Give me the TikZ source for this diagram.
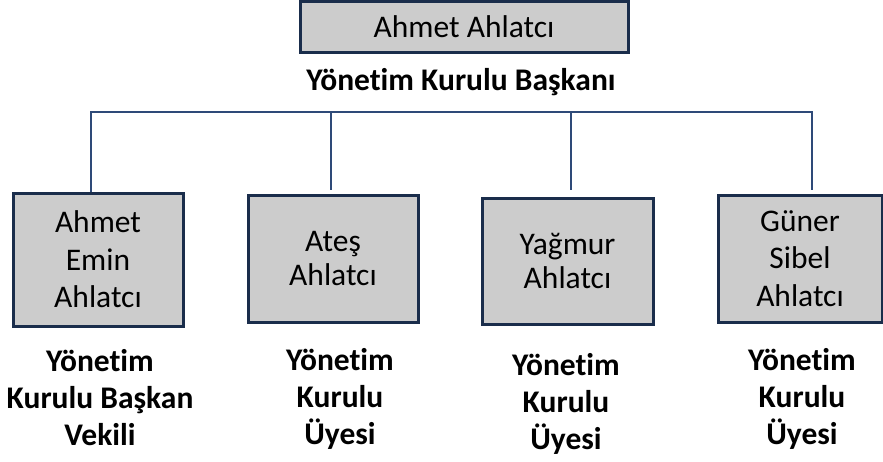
\documentclass[tikz,border=0pt]{standalone}
\usepackage{fontspec}
\setmainfont{Carlito}[Ligatures=NoCommon]
\definecolor{boxfill}{HTML}{CCCCCC}
\definecolor{boxline}{HTML}{1A2D4B}
\definecolor{busline}{HTML}{2E4A78}
\tikzset{
  person/.style={draw=boxline, line width=3pt, fill=boxfill, rectangle, inner sep=0pt, align=center,
    font=\fontsize{31.5}{37.5}\selectfont},
  role/.style={inner sep=0pt, align=center, font=\fontsize{31.5}{37}\selectfont\bfseries},
  bus/.style={draw=busline, line width=2pt}
}
\begin{document}
\begin{tikzpicture}[x=1pt,y=-1pt]
\useasboundingbox (0,0) rectangle (883,461);
% top
\node[person, minimum width=328pt, minimum height=51pt] (top) at (464,27) {Ahmet Ahlatcı};
\node[role] (toprole) at (461,82) {Yönetim Kurulu Başkanı};
% children
\node[person, minimum width=170pt, minimum height=133pt] (c1) at (98,259.5) {Ahmet\\Emin\\Ahlatcı};
\node[person, minimum width=170pt, minimum height=127pt, font=\fontsize{31.5}{34}\selectfont] (c2) at (333,258.5) {Ateş\\Ahlatcı};
\node[person, minimum width=171pt, minimum height=126pt, font=\fontsize{31.5}{34}\selectfont] (c3) at (567.5,261) {Yağmur\\Ahlatcı};
\node[person, minimum width=164pt, minimum height=127pt] (c4) at (800,258.5) {Güner\\Sibel\\Ahlatcı};
% roles
\node[role] (r1) at (100,398) {Yönetim\\Kurulu Başkan\\Vekili};
\node[role] (r2) at (340,399) {Yönetim\\Kurulu\\Üyesi};
\node[role] (r3) at (566,404) {Yönetim\\Kurulu\\Üyesi};
\node[role] (r4) at (802,399) {Yönetim\\Kurulu\\Üyesi};
% bus
\coordinate (b1) at (91,111.5);
\coordinate (b2) at (331,111.5);
\coordinate (b3) at (571,111.5);
\coordinate (b4) at (812,111.5);
\coordinate (e1) at (91,192);
\coordinate (e2) at (331,190);
\coordinate (e3) at (571,190);
\coordinate (e4) at (812,190);
\draw[bus] (e1) -- (b1) -- (b4) -- (e4);
\draw[bus] (b2) -- (e2);
\draw[bus] (b3) -- (e3);
\end{tikzpicture}
\end{document}
